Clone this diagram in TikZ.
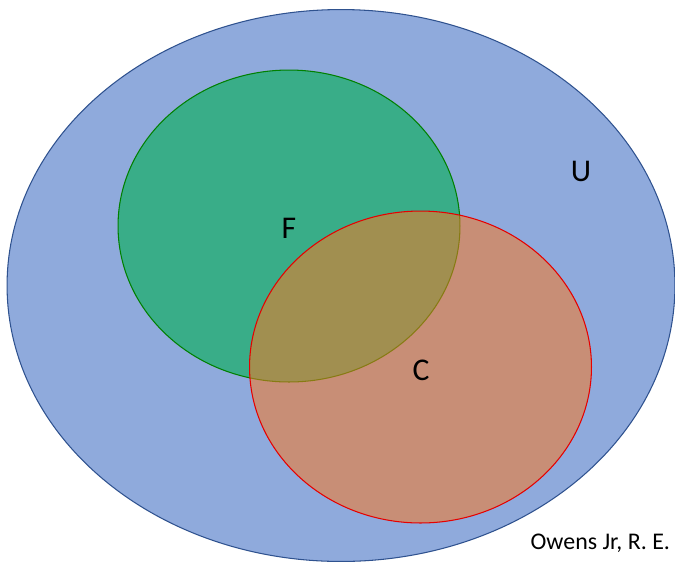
\documentclass[tikz,border=0pt]{standalone}
\usepackage{fontspec}
\setmainfont{Carlito}
\usetikzlibrary{shapes.geometric}

\definecolor{ublue}{RGB}{143,170,220}
\definecolor{uline}{RGB}{47,82,143}
\definecolor{fgreen}{RGB}{0,176,80}
\definecolor{fline}{RGB}{0,128,0}
\definecolor{corange}{RGB}{247,119,35}
\definecolor{cline}{RGB}{230,0,0}

\begin{document}
\begin{tikzpicture}[x=0.02cm,y=-0.02cm,every node/.style={inner sep=0pt,outer sep=0pt}]

% Define set styles
\tikzstyle{set} = [ellipse, line width=0.6pt]
\tikzstyle{universe} = [set, draw=uline, fill=ublue, minimum width=13.36cm, minimum height=11.04cm]
\tikzstyle{small set} = [set, minimum width=6.84cm, minimum height=6.24cm]
\tikzstyle{lbl} = [font=\fontsize{18}{20}\selectfont]

\useasboundingbox (0,0) rectangle (675,562);

\node [universe] (U) at (341,285.5) {};
\node [small set, draw=fline, fill=fgreen, fill opacity=0.6] (F) at (289,226) {};
\node [small set, draw=cline, fill=corange, fill opacity=0.55] (C) at (420.5,367) {};

\node [lbl] (Ulbl) at (581,171) {U};
\node [lbl] (Flbl) at (289,228) {F};
\node [lbl] (Clbl) at (421,370) {C};

\node [font=\fontsize{13.6}{15}\selectfont, anchor=east] (credit) at (670,543) {Owens Jr, R. E.};

\end{tikzpicture}
\end{document}
